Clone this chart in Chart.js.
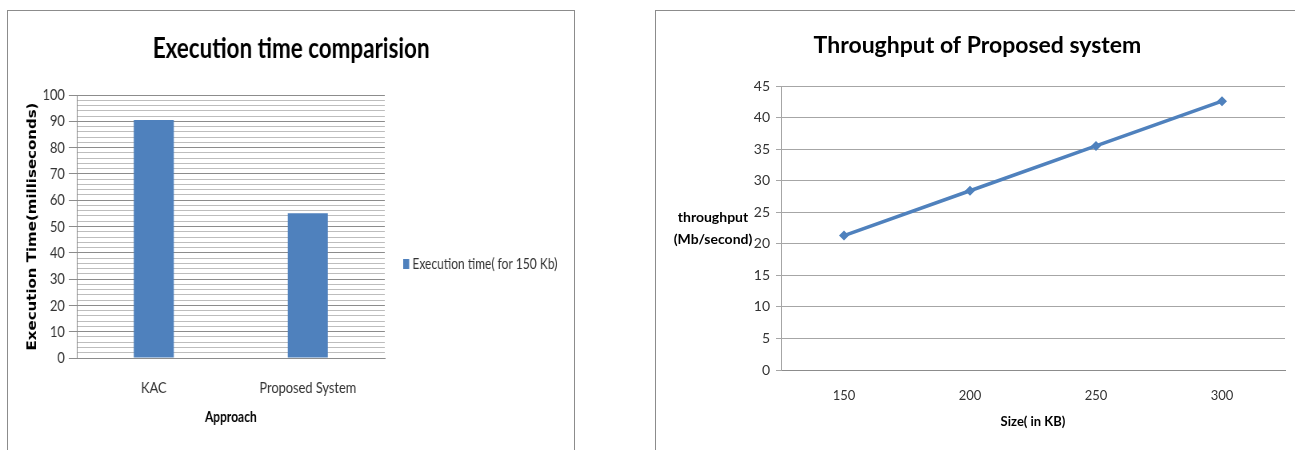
<!DOCTYPE html>
<html>
<head>
<meta charset="utf-8">
<script src="https://cdn.jsdelivr.net/npm/chart.js@4.4.1/dist/chart.umd.min.js"></script>
<style>
  html, body { margin: 0; padding: 0; background: #fff; }
  body { width: 1295px; height: 450px; position: relative; overflow: hidden; }
  .panel { position: absolute; border: 1px solid #8c8c8c; border-bottom: none; background: #fff; overflow: hidden; }
  #leftPanel { left: 7px; top: 10px; width: 566px; height: 445px; }
  #rightPanel { left: 655px; top: 10px; width: 650px; height: 445px; }
  canvas { position: absolute; left: 0; top: 0; }
  /* the execution-time panel is laid out wide and squeezed horizontally */
  #execChart { transform: scaleX(0.8); transform-origin: 0 0; }
</style>
</head>
<body>
<div class="panel" id="leftPanel"><canvas id="execChart" width="708" height="439"></canvas></div>
<div class="panel" id="rightPanel"><canvas id="tputChart" width="639" height="439"></canvas></div>
<script>
// Execution time per approach (ms)
const approaches = ['KAC', 'Proposed System'];
const executionTimes = [90.5, 55];

// Throughput by file size
const sizeLabels = ['150', '200', '250', '300'];
const throughputValues = [21.3, 28.4, 35.5, 42.6];

const FONT = 'Lato, "Open Sans", sans-serif';
const BLUE = '#4f81bd';
const TEXT = '#333333';

Chart.defaults.font.family = FONT;
Chart.defaults.color = TEXT;
Chart.defaults.animation = false;

// Heading centred across the whole canvas (independent of the plot area)
const canvasTitle = {
  id: 'canvasTitle',
  afterDraw(chart, args, opts) {
    const ctx = chart.ctx;
    ctx.save();
    ctx.font = 'bold ' + opts.size + 'px ' + FONT;
    ctx.fillStyle = '#000';
    ctx.textAlign = 'center';
    ctx.textBaseline = 'middle';
    ctx.fillText(opts.text, chart.width / 2 + (opts.dx || 0), opts.y);
    ctx.restore();
  }
};

// Single-entry legend to the right of the plot
const sideLegend = {
  id: 'sideLegend',
  afterDraw(chart, args, opts) {
    const ctx = chart.ctx;
    const ds = chart.data.datasets[0];
    const x = chart.chartArea.right + opts.gap;
    const y = chart.chartArea.bottom - opts.fromBottom;
    ctx.save();
    ctx.fillStyle = ds.backgroundColor;
    ctx.fillRect(x, y - opts.boxH / 2, opts.boxW, opts.boxH);
    ctx.font = opts.size + 'px ' + FONT;
    ctx.fillStyle = TEXT;
    ctx.textAlign = 'left';
    ctx.textBaseline = 'middle';
    ctx.fillText(ds.label, x + opts.boxW + 4, y);
    ctx.restore();
  }
};

// Execution time bar chart
new Chart(document.getElementById('execChart'), {
  type: 'bar',
  data: {
    labels: approaches,
    datasets: [{
      label: 'Execution time( for 150 Kb)',
      data: executionTimes,
      backgroundColor: BLUE,
      borderWidth: 0,
      categoryPercentage: 1,
      barPercentage: 0.26
    }]
  },
  plugins: [canvasTitle, sideLegend],
  options: {
    responsive: false,
    devicePixelRatio: 1,
    layout: { padding: { left: 0, right: 237, top: 84, bottom: 0 } },
    plugins: {
      title: { display: false },
      legend: { display: false },
      tooltip: { enabled: false },
      canvasTitle: { text: 'Execution time comparision', size: 28, y: 38 },
      sideLegend: { gap: 23, fromBottom: 94, boxW: 7.5, boxH: 10, size: 15 }
    },
    scales: {
      x: {
        grid: { display: false },
        border: { display: true, color: '#8c8c8c' },
        ticks: { padding: 12, font: { family: FONT, size: 16 }, color: TEXT },
        title: {
          display: true,
          text: 'Approach',
          color: '#000',
          font: { family: FONT, size: 15, weight: 'bold' },
          padding: { top: 0, bottom: 24 }
        },
        afterFit: s => { s.height = 92; }
      },
      y: {
        min: 0,
        max: 100,
        ticks: {
          stepSize: 2,
          padding: 5,
          autoSkip: false,
          font: { family: FONT, size: 16 },
          color: TEXT,
          callback: v => (v % 10 === 0 ? String(v) : '')
        },
        grid: {
          color: c => (c.tick && c.tick.value % 10 === 0 ? '#8c8c8c' : '#bdbdbd'),
          tickColor: c => (c.tick && c.tick.value % 10 === 0 ? '#8c8c8c' : 'rgba(0,0,0,0)'),
          tickLength: 10,
          lineWidth: 1
        },
        border: { display: true, color: '#8c8c8c' },
        title: {
          display: true,
          text: 'Execution Time(milliseconds)',
          color: '#000',
          font: { family: '"DejaVu Sans", sans-serif', size: 15, weight: 'bold' },
          padding: { top: 22, bottom: 0 }
        },
        afterFit: s => { s.width = 86; }
      }
    }
  }
});

// Horizontal two-line label beside the throughput value axis
const sideAxisLabel = {
  id: 'sideAxisLabel',
  afterDraw(chart, args, opts) {
    const ctx = chart.ctx;
    const y = chart.scales.y;
    ctx.save();
    ctx.font = 'bold 14px ' + FONT;
    ctx.fillStyle = '#000';
    ctx.textAlign = 'center';
    ctx.textBaseline = 'middle';
    const mid = y.getPixelForValue(opts.atValue);
    opts.lines.forEach((t, i) => {
      ctx.fillText(t, opts.x, mid + (i - (opts.lines.length - 1) / 2) * opts.lineGap);
    });
    ctx.restore();
  }
};

// Throughput line chart
new Chart(document.getElementById('tputChart'), {
  type: 'line',
  data: {
    labels: sizeLabels,
    datasets: [{
      label: 'throughput',
      data: throughputValues,
      borderColor: BLUE,
      backgroundColor: BLUE,
      borderWidth: 3.5,
      pointStyle: 'rectRot',
      pointRadius: 5,
      pointBorderWidth: 0,
      tension: 0
    }]
  },
  plugins: [canvasTitle, sideAxisLabel],
  options: {
    responsive: false,
    devicePixelRatio: 1,
    layout: { padding: { left: 0, right: 10, top: 75, bottom: 0 } },
    plugins: {
      title: { display: false },
      legend: { display: false },
      tooltip: { enabled: false },
      canvasTitle: { text: 'Throughput of Proposed system', size: 23, y: 35, dx: 2 },
      sideAxisLabel: { lines: ['throughput', '(Mb/second)'], x: 57, atValue: 22.35, lineGap: 22 }
    },
    scales: {
      x: {
        offset: true,
        grid: { display: false },
        border: { display: true, color: '#8c8c8c' },
        ticks: { padding: 10, font: { family: FONT, size: 13 }, color: TEXT },
        title: {
          display: true,
          text: 'Size( in KB)',
          color: '#000',
          font: { family: FONT, size: 13, weight: 'bold' },
          padding: { top: 0, bottom: 20 }
        },
        afterFit: s => { s.height = 80; }
      },
      y: {
        min: 0,
        max: 45,
        ticks: { stepSize: 5, padding: 6, font: { family: FONT, size: 14 }, color: TEXT },
        grid: { color: '#a6a6a6', tickColor: '#a6a6a6', tickLength: 5, lineWidth: 1 },
        border: { display: true, color: '#a6a6a6' },
        afterFit: s => { s.width = 125; }
      }
    }
  }
});
</script>
</body>
</html>
